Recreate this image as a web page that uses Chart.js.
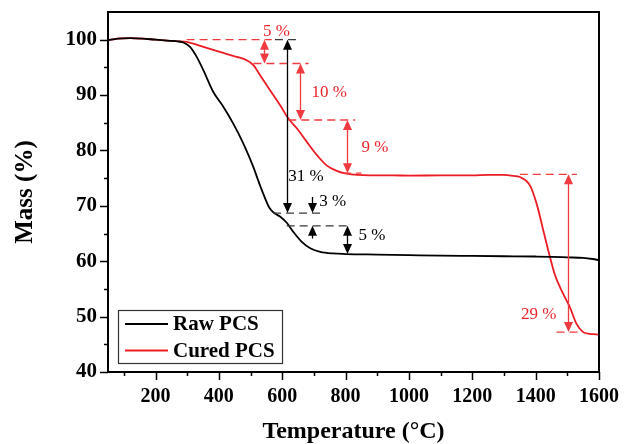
<!DOCTYPE html>
<html>
<head>
<meta charset="utf-8">
<script src="https://cdn.jsdelivr.net/npm/chart.js@4"></script>
<style>
  html, body { margin: 0; padding: 0; background: #ffffff; }
  #wrap { width: 633px; height: 444px; }
</style>
</head>
<body>
<div id="wrap"><canvas id="chart" width="633" height="444"></canvas></div>
<script>
// TGA curves
const rawTemp = [50, 80, 120, 160, 200, 246, 270, 288, 309, 330, 351, 382, 414, 445, 477, 509, 524, 540, 560, 575, 595, 615, 635, 660, 690, 720, 760, 800, 900, 1000, 1100, 1200, 1300, 1400, 1450, 1500, 1550, 1580, 1600];
const rawMass = [99.9, 100.2, 100.3, 100.2, 100.0, 99.8, 99.7, 99.5, 98.7, 96.9, 94.5, 90.6, 87.9, 84.9, 81.3, 77.0, 74.6, 72.2, 69.6, 68.7, 68.0, 66.9, 65.3, 63.6, 62.3, 61.7, 61.4, 61.3, 61.2, 61.1, 61.0, 60.95, 60.9, 60.85, 60.8, 60.7, 60.6, 60.4, 60.2];

const curedTemp = [50, 80, 120, 160, 200, 246, 298, 351, 403, 456, 488, 509, 530, 561, 593, 619, 646, 677, 709, 740, 772, 803, 877, 950, 1000, 1100, 1200, 1250, 1300, 1330, 1350, 1382, 1403, 1424, 1445, 1461, 1487, 1508, 1529, 1550, 1570, 1592, 1600];
const curedMass = [99.9, 100.2, 100.3, 100.2, 100.0, 99.8, 99.6, 98.7, 97.8, 96.9, 96.3, 95.4, 93.6, 90.9, 88.2, 85.8, 84.0, 81.6, 79.2, 77.3, 76.3, 75.8, 75.5, 75.5, 75.45, 75.5, 75.5, 75.6, 75.6, 75.4, 75.2, 73.7, 70.4, 65.6, 60.8, 57.5, 54.1, 51.7, 48.7, 47.2, 46.9, 46.8, 46.7];

const seriesNames = ['Raw PCS', 'Cured PCS'];

// tick values
const xTicks = [100, 200, 300, 400, 500, 600, 700, 800, 900, 1000, 1100, 1200, 1300, 1400, 1500, 1600];
const yTicks = [40, 45, 50, 55, 60, 65, 70, 75, 80, 85, 90, 95, 100];

// mass-loss annotations (temperature / mass values)
const redDashLevel = [100, 95.7, 85.5, 75.9, 75.7, 47.2];
const redDashStart = [298, 509, 619, 792, 1350, 1466];
const redDashEnd = [567, 683, 830, 850, 1530, 1534];

const blackDashLevel = [100, 68.7, 66.4];
const blackDashStart = [577, 571, 614];
const blackDashEnd = [646, 725, 819];

const redArrowTemp = [542, 656, 803, 1503];
const redArrowFrom = [100, 95.7, 85.5, 75.7];
const redArrowTo = [95.7, 85.5, 75.9, 47.2];

const blackArrowTemp = [614, 693, 693, 803];
const blackArrowFrom = [100, 71.6, 64.1, 66.4];
const blackArrowTo = [68.7, 68.7, 66.4, 61.3];
const blackArrowBoth = [true, false, false, true];

const redLabels = ['5 %', '10 %', '9 %', '29 %'];
const redLabelTemp = [582, 748, 893, 1410];
const redLabelMass = [101.45, 90.4, 80.6, 50.4];

const blackLabels = ['31 %', '3 %', '5 %'];
const blackLabelTemp = [675, 759, 883];
const blackLabelMass = [75.35, 70.7, 64.6];

const SERIF = "'Liberation Serif', 'Times New Roman', serif";
const RED = '#ec1c24';
const RED_NOTE = '#ef3a40';

Chart.defaults.font.family = SERIF;
Chart.defaults.color = '#000000';

function points(xs, ys) {
  return xs.map((x, i) => ({x: x, y: ys[i]}));
}

function arrowHead(ctx, x, tipY, dir) {
  // dir = -1 points up, +1 points down
  ctx.beginPath();
  ctx.moveTo(x, tipY);
  ctx.lineTo(x - 4.5, tipY - dir * 10);
  ctx.lineTo(x + 4.5, tipY - dir * 10);
  ctx.closePath();
  ctx.fill();
}

function arrow(ctx, x, y1, y2, both) {
  const dir = y2 > y1 ? 1 : -1;
  ctx.beginPath();
  ctx.moveTo(x, both ? y1 + dir * 8 : y1);
  ctx.lineTo(x, y2 - dir * 8);
  ctx.stroke();
  arrowHead(ctx, x, y2, dir);
  if (both) arrowHead(ctx, x, y1, -dir);
}

const framePlugin = {
  id: 'frame',
  afterDraw(chart) {
    const {ctx, chartArea: a, scales} = chart;
    ctx.save();
    ctx.strokeStyle = '#000000';
    ctx.lineWidth = 2;
    ctx.strokeRect(a.left, a.top, a.right - a.left, a.bottom - a.top);
    ctx.lineWidth = 1.5;
    ctx.beginPath();
    for (const v of xTicks) {
      const px = Math.round(scales.x.getPixelForValue(v)) + 0.5;
      ctx.moveTo(px, a.bottom);
      ctx.lineTo(px, a.bottom + (v % 200 === 0 ? 8 : 4));
    }
    for (const v of yTicks) {
      const py = Math.round(scales.y.getPixelForValue(v)) + 0.5;
      ctx.moveTo(a.left, py);
      ctx.lineTo(a.left - (v % 10 === 0 ? 8 : 4), py);
    }
    ctx.stroke();
    ctx.restore();
  }
};

const notesPlugin = {
  id: 'notes',
  afterDatasetsDraw(chart) {
    const {ctx, scales: {x, y}} = chart;
    ctx.save();
    ctx.lineWidth = 1.3;

    ctx.setLineDash([8, 5]);
    ctx.strokeStyle = RED_NOTE;
    redDashLevel.forEach((m, i) => {
      ctx.beginPath();
      ctx.moveTo(x.getPixelForValue(redDashStart[i]), y.getPixelForValue(m));
      ctx.lineTo(x.getPixelForValue(redDashEnd[i]), y.getPixelForValue(m));
      ctx.stroke();
    });
    ctx.strokeStyle = '#3a3a3a';
    blackDashLevel.forEach((m, i) => {
      ctx.beginPath();
      ctx.moveTo(x.getPixelForValue(blackDashStart[i]), y.getPixelForValue(m));
      ctx.lineTo(x.getPixelForValue(blackDashEnd[i]), y.getPixelForValue(m));
      ctx.stroke();
    });
    ctx.setLineDash([]);

    ctx.strokeStyle = RED_NOTE;
    ctx.fillStyle = RED_NOTE;
    redArrowTemp.forEach((t, i) => {
      arrow(ctx, Math.round(x.getPixelForValue(t)) + 0.5, y.getPixelForValue(redArrowFrom[i]), y.getPixelForValue(redArrowTo[i]), true);
    });
    ctx.strokeStyle = '#000000';
    ctx.fillStyle = '#000000';
    blackArrowTemp.forEach((t, i) => {
      arrow(ctx, Math.round(x.getPixelForValue(t)) + 0.5, y.getPixelForValue(blackArrowFrom[i]), y.getPixelForValue(blackArrowTo[i]), blackArrowBoth[i]);
    });

    ctx.font = '17px ' + SERIF;
    ctx.textAlign = 'center';
    ctx.textBaseline = 'middle';
    ctx.fillStyle = '#e8262c';
    redLabels.forEach((s, i) => {
      ctx.fillText(s, x.getPixelForValue(redLabelTemp[i]), y.getPixelForValue(redLabelMass[i]));
    });
    ctx.fillStyle = '#000000';
    blackLabels.forEach((s, i) => {
      ctx.fillText(s, x.getPixelForValue(blackLabelTemp[i]), y.getPixelForValue(blackLabelMass[i]));
    });
    ctx.restore();
  }
};

const legendPlugin = {
  id: 'boxLegend',
  afterDraw(chart) {
    const {ctx, chartArea: a} = chart;
    const left = a.left + 10;
    const top = a.bottom - 62;
    ctx.save();
    ctx.strokeStyle = '#333333';
    ctx.lineWidth = 1.2;
    ctx.strokeRect(left + 0.5, top + 0.5, 164, 53);
    ctx.font = 'bold 21px ' + SERIF;
    ctx.textAlign = 'left';
    ctx.textBaseline = 'middle';
    chart.data.datasets.forEach((ds, i) => {
      const ly = top + 14 + i * 26.5;
      ctx.strokeStyle = ds.borderColor;
      ctx.lineWidth = 1.8;
      ctx.beginPath();
      ctx.moveTo(left + 7, ly);
      ctx.lineTo(left + 50, ly);
      ctx.stroke();
      ctx.fillStyle = '#000000';
      ctx.fillText(ds.label, left + 55, ly + 1);
    });
    ctx.restore();
  }
};

new Chart(document.getElementById('chart'), {
  type: 'line',
  data: {
    datasets: [{
      label: seriesNames[0],
      data: points(rawTemp, rawMass),
      borderColor: '#000000',
      borderWidth: 1.8,
      pointRadius: 0,
      cubicInterpolationMode: 'monotone',
      fill: false
    }, {
      label: seriesNames[1],
      data: points(curedTemp, curedMass),
      borderColor: RED,
      borderWidth: 1.8,
      pointRadius: 0,
      cubicInterpolationMode: 'monotone',
      fill: false
    }]
  },
  options: {
    responsive: false,
    devicePixelRatio: 1,
    animation: false,
    layout: {padding: {left: 0, right: 34, top: 12, bottom: 0}},
    plugins: {
      legend: {display: false},
      tooltip: {enabled: false}
    },
    scales: {
      x: {
        type: 'linear',
        min: 50,
        max: 1600,
        afterBuildTicks: (scale) => { scale.ticks = xTicks.map(v => ({value: v})); },
        afterFit: (scale) => {
          scale.height = 72;
          scale.paddingLeft = 0;
          scale.paddingRight = 0;
        },
        grid: {display: false, drawTicks: false},
        border: {display: false},
        ticks: {
          autoSkip: false,
          maxRotation: 0,
          padding: 13,
          font: {size: 20, weight: 'bold'},
          callback: (v) => (v % 200 === 0 ? String(v) : '')
        },
        title: {
          display: true,
          text: 'Temperature (°C)',
          font: {size: 24, weight: 'bold', lineHeight: 1},
          padding: {top: 0, bottom: 0}
        }
      },
      y: {
        min: 40,
        max: 105,
        afterBuildTicks: (scale) => { scale.ticks = yTicks.map(v => ({value: v})); },
        afterFit: (scale) => {
          scale.width = 108;
          scale.paddingTop = 0;
          scale.paddingBottom = 0;
        },
        grid: {display: false, drawTicks: false},
        border: {display: false},
        ticks: {
          autoSkip: false,
          padding: 11,
          font: {size: 21, weight: 'bold'},
          callback: (v) => (v % 10 === 0 ? String(v) : '')
        },
        title: {
          display: true,
          text: 'Mass (%)',
          font: {size: 25, weight: 'bold', lineHeight: 1},
          padding: {top: 13.5, bottom: 0}
        }
      }
    }
  },
  plugins: [framePlugin, notesPlugin, legendPlugin]
});
</script>
</body>
</html>
